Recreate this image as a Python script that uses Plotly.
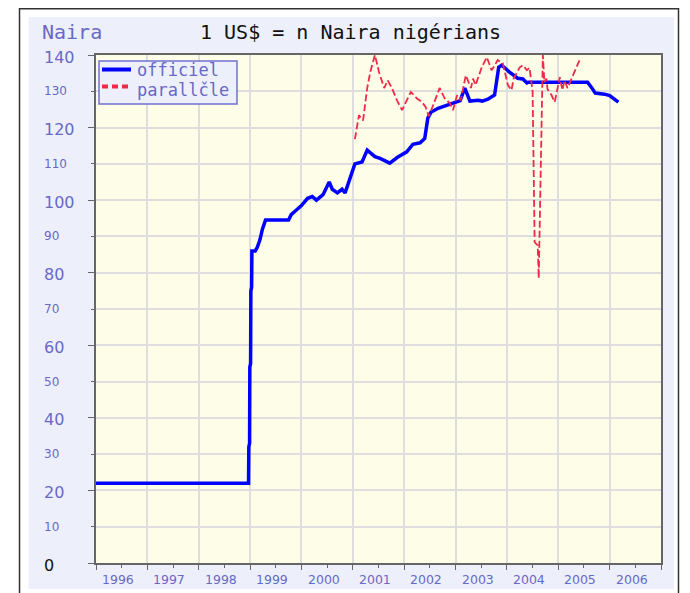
import plotly.graph_objects as go

# ---------------- data ----------------
official_year = [1996.0, 1998.97, 1998.975, 1998.99, 1998.995, 1999.01, 1999.015, 1999.03, 1999.035,
                 1999.10, 1999.14, 1999.19, 1999.24, 1999.30, 1999.75, 1999.80, 1999.88, 2000.0,
                 2000.12, 2000.21, 2000.29, 2000.42, 2000.54, 2000.60, 2000.70, 2000.79, 2000.85,
                 2000.90, 2000.95, 2001.04, 2001.18, 2001.28, 2001.43, 2001.53, 2001.72, 2001.87,
                 2002.05, 2002.17, 2002.31, 2002.40, 2002.46, 2002.52, 2002.66, 2002.83, 2002.99,
                 2003.09, 2003.18, 2003.28, 2003.44, 2003.52, 2003.63, 2003.76, 2003.84, 2003.90,
                 2004.05, 2004.21, 2004.31, 2004.39, 2004.42, 2005.57, 2005.65, 2005.72, 2005.90,
                 2006.00, 2006.17]
official_rate = [22, 22, 32, 33, 54, 55, 75, 76, 86,
                 86, 87, 89, 92, 94.5, 94.5, 96, 97, 98.5,
                 100.5, 101, 100, 101.5, 105, 103, 102, 103, 102,
                 104, 106, 110, 110.5, 113.8, 112, 111.5, 110.2, 111.8,
                 113.3, 115.4, 115.8, 117, 122.6, 124.2, 125.3, 126.2, 127,
                 127.4, 130.9, 127.3, 127.5, 127.3, 127.8, 129, 136.6, 137.2,
                 135.3, 133.6, 133.4, 132.3, 132.5, 132.5, 131, 129.5, 129.2,
                 128.8, 127]

parallel_year = [2001.04, 2001.12, 2001.20, 2001.28, 2001.34, 2001.43, 2001.51, 2001.61, 2001.68,
                 2001.76, 2001.86, 2001.96, 2002.05, 2002.13, 2002.25, 2002.35, 2002.42, 2002.48,
                 2002.60, 2002.69, 2002.79, 2002.89, 2002.95, 2003.03, 2003.10, 2003.20, 2003.30,
                 2003.34, 2003.39, 2003.51, 2003.61, 2003.70, 2003.74, 2003.82, 2003.92, 2004.02,
                 2004.09, 2004.13, 2004.25, 2004.31, 2004.39, 2004.44, 2004.50, 2004.54, 2004.60,
                 2004.62, 2004.70, 2004.73, 2004.77, 2004.79, 2004.87, 2004.93, 2004.99, 2005.03,
                 2005.08, 2005.12, 2005.18, 2005.26, 2005.32, 2005.43]
parallel_rate = [116.8, 123.4, 122, 130.9, 135.3, 140, 135.3, 130.9, 133,
                 130.9, 127.5, 124.8, 127.5, 129.8, 128, 127, 125.6, 123.1,
                 127.5, 130.9, 128, 126.7, 124.8, 128.9, 127.5, 134.4, 130.9,
                 133.5, 131.7, 136.6, 139.4, 135.8, 136.6, 138.6, 137.7, 131.7,
                 130.3, 133.5, 136.6, 137.2, 135.8, 136.5, 130, 88.4, 87.5,
                 78.5, 140, 132.5, 133.5, 130.6, 128.9, 127, 131.1, 133.9,
                 130.3, 133, 130.9, 133.6, 135.8, 139.1]

year_labels = ["1996", "1997", "1998", "1999", "2000", "2001", "2002", "2003", "2004", "2005", "2006"]
year_bounds = list(range(1996, 2008))
y_tick_values = list(range(0, 141, 10))
y_tick_labels = [str(v) for v in y_tick_values]

series_names = ["officiel", "parallčle"]
chart_title = "1 US$ = n Naira nigérians"
unit_label = "Naira"

# ---------------- style / layout ----------------
OFF = 8                      # page body margin of the browser
W, H = 690 - OFF, 593 - OFF
L, R, T, B = 96, 661, 55, 563   # plot area in window pixels
LABEL_BLUE = "#6868C8"
PANEL = "#EDF0FA"
PLOT_BG = "#FEFDE7"
GRID = "#DEDEDE"
AXIS = "#666666"
BLUE = "#0000FF"
RED = "#F0284A"


def px_x(p):
    """window pixel x -> paper coordinate"""
    return (p - L) / (R - L)


def px_y(p):
    """window pixel y -> paper coordinate"""
    return (B - p) / (B - T)


fig = go.Figure()
fig.add_trace(go.Scatter(
    x=official_year, y=official_rate, mode="lines", name=series_names[0],
    line=dict(color=BLUE, width=3.5), hoverinfo="x+y", showlegend=False))
fig.add_trace(go.Scatter(
    x=parallel_year, y=parallel_rate, mode="lines", name=series_names[1],
    line=dict(color=RED, width=1.8, dash="7px,3px"), hoverinfo="x+y", showlegend=False))

shapes = [
    # white margins around the light-blue panel
    dict(type="rect", xref="paper", yref="paper", x0=px_x(-20), x1=px_x(28.5), y0=px_y(620), y1=px_y(-20),
         fillcolor="white", line_width=0, layer="above"),
    dict(type="rect", xref="paper", yref="paper", x0=px_x(674), x1=px_x(720), y0=px_y(620), y1=px_y(-20),
         fillcolor="white", line_width=0, layer="above"),
    dict(type="rect", xref="paper", yref="paper", x0=px_x(-20), x1=px_x(720), y0=px_y(17), y1=px_y(-20),
         fillcolor="white", line_width=0, layer="above"),
    dict(type="rect", xref="paper", yref="paper", x0=px_x(-20), x1=px_x(720), y0=px_y(620), y1=px_y(589),
         fillcolor="white", line_width=0, layer="above"),
    # dark outer frame
    dict(type="rect", xref="paper", yref="paper", x0=px_x(19.5), x1=px_x(678.5), y0=px_y(660), y1=px_y(8.8),
         fillcolor="rgba(0,0,0,0)", line=dict(color="#333333", width=1.5), layer="above"),
    # legend box
    dict(type="rect", xref="paper", yref="paper", x0=px_x(99), x1=px_x(237), y0=px_y(104), y1=px_y(61),
         fillcolor=PANEL, line=dict(color="#7070D0", width=1.5), layer="above"),
    # legend samples
    dict(type="line", xref="paper", yref="paper", x0=px_x(102), x1=px_x(131), y0=px_y(69.5), y1=px_y(69.5),
         line=dict(color=BLUE, width=4), layer="above"),
    dict(type="line", xref="paper", yref="paper", x0=px_x(102), x1=px_x(130), y0=px_y(86.5), y1=px_y(86.5),
         line=dict(color=RED, width=4, dash="6px,4px"), layer="above"),
]

annotations = [
    dict(text=chart_title, xref="paper", yref="paper", x=px_x(350), y=px_y(32),
         xanchor="center", yanchor="middle", showarrow=False,
         font=dict(family="DejaVu Sans Mono", size=20, color="#111111")),
    dict(text=unit_label, xref="paper", yref="paper", x=px_x(40), y=px_y(32),
         xanchor="left", yanchor="middle", showarrow=False,
         font=dict(family="DejaVu Sans Mono", size=20, color=LABEL_BLUE)),
    dict(text=series_names[0], xref="paper", yref="paper", x=px_x(135), y=px_y(70.5),
         xanchor="left", yanchor="middle", showarrow=False,
         font=dict(family="DejaVu Sans Mono", size=17, color=LABEL_BLUE)),
    dict(text=series_names[1], xref="paper", yref="paper", x=px_x(135), y=px_y(89.5),
         xanchor="left", yanchor="middle", showarrow=False,
         font=dict(family="DejaVu Sans Mono", size=17, color=LABEL_BLUE)),
]

# y-axis labels: left aligned, alternating large / small, "0" in black
for i, (v, lab) in enumerate(zip(y_tick_values, y_tick_labels)):
    big = (i % 2 == 0)
    color = "#111111" if v == 0 else LABEL_BLUE
    annotations.append(dict(
        text=lab, xref="paper", yref="y", x=px_x(42), y=v, yshift=-2 if big else 0,
        xanchor="left", yanchor="middle", showarrow=False,
        font=dict(family="DejaVu Sans", size=16 if big else 12, color=color)))

# x-axis labels, near the middle of each year
for lab in year_labels:
    annotations.append(dict(
        text=lab, xref="x", yref="paper", x=int(lab) + 0.43, y=px_y(579),
        xanchor="center", yanchor="middle", showarrow=False,
        font=dict(family="DejaVu Sans", size=12.5, color=LABEL_BLUE)))

fig.update_layout(
    width=W, height=H,
    margin=dict(l=L - OFF, r=W - (R - OFF), t=T - OFF, b=H - (B - OFF), pad=0),
    paper_bgcolor=PANEL,
    plot_bgcolor=PLOT_BG,
    showlegend=False,
    shapes=shapes,
    annotations=annotations,
    xaxis=dict(
        range=[year_bounds[0], year_bounds[-1]],
        tickmode="array", tickvals=year_bounds, showticklabels=False,
        ticks="outside", ticklen=5, tickwidth=1, tickcolor=AXIS,
        showgrid=True, gridcolor=GRID, gridwidth=1.5, zeroline=False,
        showline=True, linecolor=AXIS, linewidth=1.5, mirror=True,
        minor=dict(tickvals=[y + 0.5 for y in year_bounds[:-1]], showgrid=False,
                   ticks="outside", ticklen=3, tickcolor=AXIS),
        fixedrange=True,
    ),
    yaxis=dict(
        range=[0, 140],
        tickmode="array", tickvals=y_tick_values[::2], showticklabels=False,
        ticks="outside", ticklen=6, tickwidth=1, tickcolor=AXIS,
        showgrid=True, gridcolor=GRID, gridwidth=1.5, zeroline=False,
        showline=True, linecolor=AXIS, linewidth=1.5, mirror=True,
        minor=dict(tickvals=y_tick_values[1::2], showgrid=True, gridcolor=GRID, gridwidth=1.5,
                   ticks="outside", ticklen=3, tickcolor=AXIS),
        fixedrange=True,
    ),
)

fig.write_html("out.html")
